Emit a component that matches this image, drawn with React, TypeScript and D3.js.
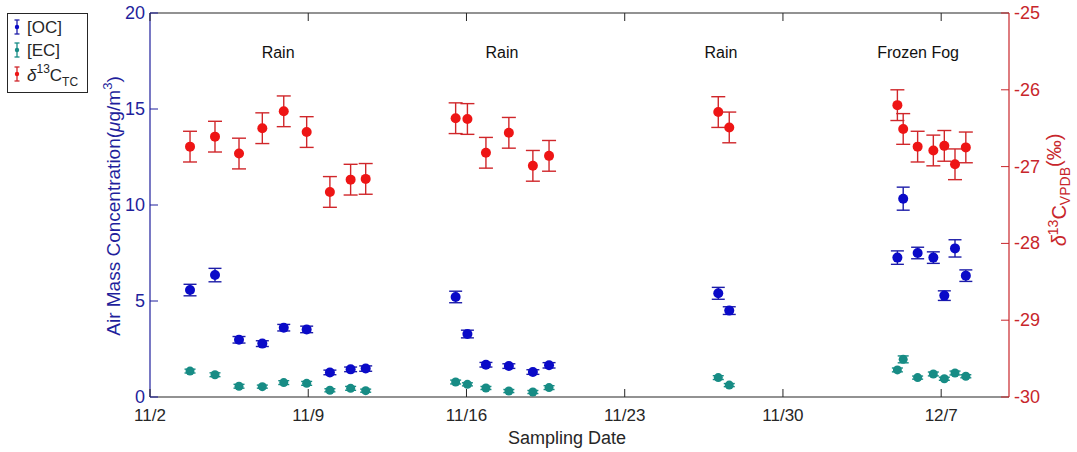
import React from "react";
import * as d3 from "d3";

const sampleTimes = [
  "2015-11-03T18:30", "2015-11-04T21:00", "2015-11-05T22:30", "2015-11-06T23:15",
  "2015-11-07T22:00", "2015-11-08T22:20", "2015-11-09T23:00", "2015-11-10T21:00",
  "2015-11-11T13:00",
  "2015-11-15T12:30", "2015-11-16T01:00", "2015-11-16T20:40", "2015-11-17T21:00",
  "2015-11-18T22:30", "2015-11-19T15:40",
  "2015-11-27T03:20", "2015-11-27T15:00",
  "2015-12-05T01:30", "2015-12-05T07:40", "2015-12-05T23:00", "2015-12-06T15:40",
  "2015-12-07T03:20", "2015-12-07T14:40", "2015-12-08T02:10",
];

const ocValues = [5.57, 6.35, 2.98, 2.78, 3.61, 3.52, 1.28, 1.44, 1.48,
  5.21, 3.28, 1.68, 1.61, 1.3, 1.65,
  5.4, 4.5,
  7.26, 10.33, 7.5, 7.26, 5.28, 7.74, 6.32];
const ocErrors = [0.3, 0.35, 0.17, 0.15, 0.17, 0.17, 0.12, 0.12, 0.14,
  0.3, 0.2, 0.12, 0.12, 0.12, 0.14,
  0.31, 0.2,
  0.35, 0.6, 0.3, 0.3, 0.25, 0.45, 0.3];

const ecValues = [1.35, 1.16, 0.56, 0.54, 0.75, 0.71, 0.35, 0.45, 0.33,
  0.78, 0.66, 0.47, 0.31, 0.26, 0.49,
  1.01, 0.62,
  1.41, 1.96, 1.01, 1.2, 0.95, 1.25, 1.08];
const ecErrors = [0.1, 0.1, 0.1, 0.08, 0.1, 0.1, 0.08, 0.1, 0.08,
  0.1, 0.08, 0.08, 0.08, 0.08, 0.1,
  0.1, 0.08,
  0.1, 0.18, 0.08, 0.1, 0.08, 0.1, 0.08];

const d13cValues = [-26.74, -26.61, -26.83, -26.5, -26.28, -26.55, -27.33, -27.17, -27.16,
  -26.37, -26.38, -26.82, -26.56, -26.99, -26.86,
  -26.29, -26.49,
  -26.2, -26.51, -26.74, -26.79, -26.73, -26.97, -26.75];
const d13cErrors = [0.2, 0.2, 0.2, 0.2, 0.2, 0.2, 0.2, 0.2, 0.2,
  0.2, 0.2, 0.2, 0.2, 0.2, 0.2,
  0.2, 0.2,
  0.2, 0.2, 0.2, 0.2, 0.2, 0.2, 0.2];

const xTickDates = ["2015-11-02T00:00", "2015-11-09T00:00", "2015-11-16T00:00", "2015-11-23T00:00", "2015-11-30T00:00", "2015-12-07T00:00"];
const xTickLabels = ["11/2", "11/9", "11/16", "11/23", "11/30", "12/7"];
const leftTicks = [0, 5, 10, 15, 20];
const rightTicks = [-30, -29, -28, -27, -26, -25];
const eventLabels = ["Rain", "Rain", "Rain", "Frozen Fog"];
const eventTimes = ["2015-11-07T16:00", "2015-11-17T13:40", "2015-11-27T06:15", "2015-12-05T23:30"];

const FONT = "Liberation Sans, Arial, Helvetica, sans-serif";
const BLUE_AX = "#1f1f9c";
const RED_AX = "#c8262b";
const DARK = "#262626";
const OC_DOT = "#0a0ac8";
const OC_BAR = "#1c1ca8";
const EC_DOT = "#178c85";
const EC_BAR = "#178c85";
const D_DOT = "#ee1515";
const D_BAR = "#d0262a";

const L = 150, R = 1009, T = 13, B = 397;

function ErrBar({ cx, y0, y1, cap, color, w }: any) {
  return (
    <g stroke={color} strokeWidth={w} fill="none">
      <line x1={cx} x2={cx} y1={y0} y2={y1} />
      <line x1={cx - cap} x2={cx + cap} y1={y0} y2={y0} />
      <line x1={cx - cap} x2={cx + cap} y1={y1} y2={y1} />
    </g>
  );
}

export default function App() {
  const x = d3.scaleTime().domain([new Date(2015, 10, 2), new Date(2015, 11, 10)]).range([L, R]);
  const yL = d3.scaleLinear().domain([0, 20]).range([B, T]);
  const yR = d3.scaleLinear().domain([-30, -25]).range([B, T]);
  const times = sampleTimes.map((s) => new Date(s));

  return (
    <svg width={1077} height={452} style={{ position: "absolute", left: 0, top: 0, background: "#fff" }} fontFamily={FONT}>
      <rect x={0} y={0} width={1077} height={452} fill="#fff" />
      {/* frame */}
      <line x1={L} x2={R} y1={T} y2={T} stroke={DARK} strokeWidth={1.2} />
      <line x1={L} x2={R} y1={B} y2={B} stroke={DARK} strokeWidth={1.2} />
      <line x1={L} x2={L} y1={T} y2={B} stroke={BLUE_AX} strokeWidth={1.2} />
      <line x1={R} x2={R} y1={T} y2={B} stroke={RED_AX} strokeWidth={1.2} />

      {/* x ticks */}
      {xTickDates.map((d, i) => {
        const px = x(new Date(d));
        return (
          <g key={"xt" + i}>
            <line x1={px} x2={px} y1={B} y2={B - 8} stroke={DARK} strokeWidth={1} />
            <line x1={px} x2={px} y1={T} y2={T + 8} stroke={DARK} strokeWidth={1} />
            <text x={px} y={421} textAnchor="middle" fontSize={17} fill={DARK}>{xTickLabels[i]}</text>
          </g>
        );
      })}
      <text x={567} y={444} textAnchor="middle" fontSize={18} fill={DARK}>Sampling Date</text>

      {/* left ticks */}
      {leftTicks.map((v) => (
        <g key={"lt" + v}>
          <line x1={L} x2={L + 8} y1={yL(v)} y2={yL(v)} stroke={BLUE_AX} strokeWidth={1} />
          <text x={L - 5} y={yL(v) + 6} textAnchor="end" fontSize={18} fill={BLUE_AX}>{v}</text>
        </g>
      ))}
      <text transform="translate(120,206) rotate(-90)" textAnchor="middle" fontSize={19} fill={BLUE_AX}>
        Air Mass Concentration(<tspan fontStyle="italic">μ</tspan>g/m<tspan fontSize={13} dy={-8}>3</tspan><tspan dy={8}>)</tspan>
      </text>

      {/* right ticks */}
      {rightTicks.map((v) => (
        <g key={"rt" + v}>
          <line x1={R} x2={R - 8} y1={yR(v)} y2={yR(v)} stroke={RED_AX} strokeWidth={1} />
          <text x={R + 5} y={yR(v) + 6} textAnchor="start" fontSize={18} fill={RED_AX}>{v}</text>
        </g>
      ))}
      <text transform="translate(1066,190) rotate(-90)" textAnchor="middle" fontSize={20} fill={RED_AX}>
        <tspan fontStyle="italic">δ</tspan><tspan fontSize={14} dy={-8}>13</tspan><tspan dy={8}>C</tspan><tspan fontSize={14} dy={4}>VPDB</tspan><tspan dy={-9}>(‰)</tspan>
      </text>

      {/* event labels */}
      {eventLabels.map((t, i) => (
        <text key={"ev" + i} x={x(new Date(eventTimes[i]))} y={58} textAnchor="middle" fontSize={16} fill="#111">{t}</text>
      ))}

      {/* d13C */}
      {times.map((t, i) => (
        <g key={"d" + i}>
          <ErrBar cx={x(t)} y0={yR(d13cValues[i] - d13cErrors[i])} y1={yR(d13cValues[i] + d13cErrors[i])} cap={7} color={D_BAR} w={1.4} />
          <circle cx={x(t)} cy={yR(d13cValues[i])} r={5} fill={D_DOT} />
        </g>
      ))}
      {/* OC */}
      {times.map((t, i) => (
        <g key={"oc" + i}>
          <ErrBar cx={x(t)} y0={yL(ocValues[i] - ocErrors[i])} y1={yL(ocValues[i] + ocErrors[i])} cap={6.5} color={OC_BAR} w={1.4} />
          <circle cx={x(t)} cy={yL(ocValues[i])} r={5} fill={OC_DOT} />
        </g>
      ))}
      {/* EC */}
      {times.map((t, i) => (
        <g key={"ec" + i}>
          <ErrBar cx={x(t)} y0={yL(ecValues[i] - ecErrors[i])} y1={yL(ecValues[i] + ecErrors[i])} cap={5.5} color={EC_BAR} w={1.4} />
          <circle cx={x(t)} cy={yL(ecValues[i])} r={4.5} fill={EC_DOT} />
        </g>
      ))}

      {/* legend */}
      <rect x={7.5} y={13.5} width={80} height={79} fill="#fff" stroke={DARK} strokeWidth={1} />
      {[
        { c: OC_BAR, d: OC_DOT, y: 27 },
        { c: EC_BAR, d: EC_DOT, y: 50 },
        { c: D_BAR, d: D_DOT, y: 74 },
      ].map((e, i) => (
        <g key={"lg" + i}>
          <ErrBar cx={17} y0={e.y - 7} y1={e.y + 7} cap={2.5} color={e.c} w={1.3} />
          <circle cx={17} cy={e.y} r={2.2} fill={e.d} />
        </g>
      ))}
      <text x={27} y={33} fontSize={17} fill={DARK}>[OC]</text>
      <text x={27} y={56} fontSize={17} fill={DARK}>[EC]</text>
      <text x={27} y={81} fontSize={17} fill={DARK}>
        <tspan fontStyle="italic">δ</tspan><tspan fontSize={12} dy={-8}>13</tspan><tspan dy={8}>C</tspan><tspan fontSize={12} dy={5}>TC</tspan>
      </text>
    </svg>
  );
}
